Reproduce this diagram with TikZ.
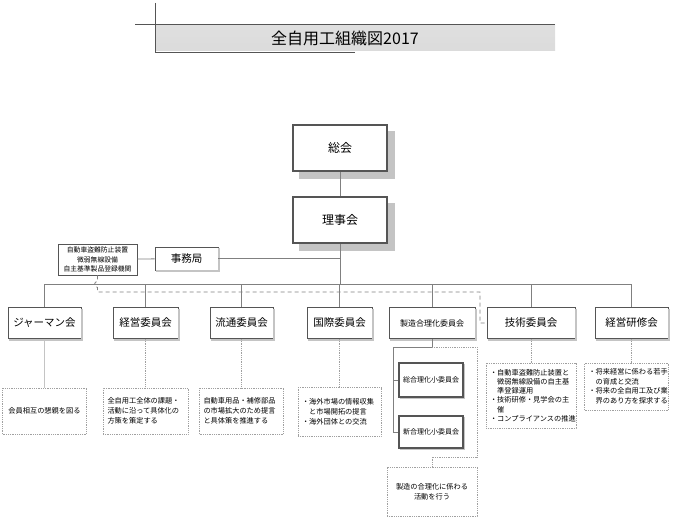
\documentclass[tikz,border=0pt]{standalone}
\usepackage{fontspec}
\setmainfont{Noto Sans CJK JP}
\definecolor{lineGray}{HTML}{808080}
\definecolor{frameDark}{HTML}{555555}
\definecolor{shadeGray}{HTML}{C4C4C4}
\definecolor{dotGray}{HTML}{A0A0A0}
\tikzset{
  lineS/.style={lineGray, line width=0.8pt},
  lineD/.style={lineGray, line width=0.8pt, dashed, dash pattern=on 4pt off 3pt},
  lineP/.style={dotGray, line width=0.8pt, densely dotted},
  lineL/.style={shadeGray, line width=0.8pt},
  shadowTop/.style={shadeGray, line width=7pt},
  shadowCom/.style={shadeGray, line width=1.6pt},
  boxTop/.style={rectangle, draw=frameDark, line width=1.6pt, fill=white,
                 minimum width=94pt, minimum height=46pt, inner sep=2pt,
                 font=\fontsize{12}{14}\selectfont},
  boxCom/.style={rectangle, draw=frameDark, line width=0.8pt, fill=white,
                 minimum height=31pt, inner sep=2pt,
                 font=\fontsize{10.5}{12}\selectfont},
  boxSub/.style={rectangle, draw=frameDark, line width=1.3pt, fill=white,
                 minimum width=64pt, inner sep=2pt,
                 font=\fontsize{7}{9}\selectfont},
  boxOrgan/.style={rectangle, draw=frameDark, line width=0.8pt, fill=white,
                   minimum width=79pt, minimum height=31pt, inner sep=1pt,
                   align=center, font=\fontsize{6.8}{9.2}\selectfont},
  boxNote/.style={rectangle, draw=dotGray, line width=0.8pt, densely dotted,
                  fill=white, inner sep=4pt, align=left,
                  font=\fontsize{7.2}{10}\selectfont},
}

\begin{document}
\begin{tikzpicture}[x=1pt, y=-1pt]
  \useasboundingbox (0,0) rectangle (674,519);
  % title bar
  \shade[top color=gray!25, middle color=gray!6, bottom color=gray!28]
    (155,25) rectangle (555,51);
  \draw[frameDark, line width=0.9pt] (135,24) -- (555,24);
  \draw[frameDark, line width=0.9pt] (155,3) -- (155,53);
  \draw[frameDark, line width=0.9pt] (155,52) -- (355,52);
  \node[font=\fontsize{16}{18}\selectfont] (title) at (345,38) {全自用工組織図2017};

  % top level
  \node[boxTop] (soukai) at (340,148) {総会};
  \node[boxTop] (rijikai) at (340,220) {理事会};
  \node[boxCom, minimum width=63pt, minimum height=23pt] (jimukyoku) at (186.5,258.5) {事務局};
  \node[boxOrgan] (kikan) at (97.5,259.5)
    {自動車盗難防止装置\\微弱無線設備\\自主基準製品登録機関};

  % committees
  \node[boxCom, minimum width=73pt] (german) at (44.5,323) {ジャーマン会};
  \node[boxCom, minimum width=65pt] (keiei) at (145.5,323) {経営委員会};
  \node[boxCom, minimum width=63pt] (ryutsu) at (241.5,323) {流通委員会};
  \node[boxCom, minimum width=65pt] (kokusai) at (339.5,323) {国際委員会};
  \node[boxCom, minimum width=86pt, font=\fontsize{8}{10}\selectfont] (seizo) at (432,323) {製造合理化委員会};
  \node[boxCom, minimum width=88pt] (gijutsu) at (531,323) {技術委員会};
  \node[boxCom, minimum width=73pt] (kenshu) at (631.5,323) {経営研修会};

  % sub committees
  \node[boxSub, minimum height=34pt] (sogo) at (431,380) {総合理化小委員会};
  \node[boxSub, minimum height=32pt] (shingo) at (431,432) {新合理化小委員会};

  % shadows
  \foreach \n in {soukai, rijikai}
    \draw[shadowTop] ([shift={(3.5,7)}]\n.north east) -- ([shift={(3.5,3.5)}]\n.south east)
      -- ([shift={(7,3.5)}]\n.south west);
  \foreach \n in {jimukyoku, german, keiei, ryutsu, kokusai, seizo, gijutsu, kenshu, sogo, shingo}
    \draw[shadowCom] ([shift={(0.8,1.6)}]\n.north east) -- ([shift={(0.8,0.8)}]\n.south east)
      -- ([shift={(1.6,0.8)}]\n.south west);

  % notes
  \node[boxNote, minimum width=84pt, minimum height=46pt, align=center] (noteGerman) at (44.5,411)
    {会員相互の懇親を図る};
  \node[boxNote, minimum width=85pt, minimum height=46pt, text width=76pt] (noteKeiei) at (145.5,411)
    {全自用工全体の課題・\\活動に沿って具体化の\\方策を策定する};
  \node[boxNote, minimum width=84pt, minimum height=46pt, text width=76pt] (noteRyutsu) at (241.5,411)
    {自動車用品・補修部品\\の市場拡大のため提言\\と具体策を推進する};
  \node[boxNote, minimum width=83pt, minimum height=49pt, text width=75pt] (noteKokusai) at (339.5,412)
    {・海外市場の情報収集\\　と市場開拓の提言\\・海外団体との交流};
  \node[boxNote, minimum width=90pt, minimum height=65pt, text width=82pt,
        font=\fontsize{7.2}{9.2}\selectfont] (noteGijutsu) at (531,395.5)
    {・自動車盗難防止装置と\\　微弱無線設備の自主基\\　準登録運用\\・技術研修・見学会の主\\　催\\・コンプライアンスの推進};
  \node[boxNote, minimum width=84pt, minimum height=47pt, text width=76pt,
        font=\fontsize{7.2}{9.5}\selectfont] (noteKenshu) at (626.5,386.5)
    {・将来経営に係わる若手\\　の育成と交流\\・将来の全自用工及び業\\　界のあり方を探求する};
  \node[boxNote, minimum width=90pt, minimum height=49pt, align=center] (noteSeizo) at (432,491.5)
    {製造の合理化に係わる\\活動を行う};

  % solid lines
  \coordinate (bus) at (0,284);
  \draw[lineS] (soukai) -- (rijikai);
  \draw[lineS] (rijikai.south) -- (rijikai.south |- bus);
  \draw[lineS] (german.north) -- (german.north |- bus) -- (kenshu.north |- bus) -- (kenshu.north);
  \foreach \n in {keiei, ryutsu, kokusai, seizo, gijutsu}
    \draw[lineS] (\n.north) -- (\n.north |- bus);
  \draw[lineS] (kikan) -- (jimukyoku);
  \draw[lineS] (jimukyoku.east) -- (jimukyoku.east -| rijikai.south);

  % dashed link
  \coordinate (liaison) at (480,292);
  \draw[lineD] (kikan.south) -- ++(0,6) arc (270:90:3)
    -- (kikan.south |- liaison) -- (liaison) |- (gijutsu.west);

  % seizo branch
  \coordinate (trunk) at (393,347);
  \coordinate (loop) at (477,457);
  \draw[lineS] (seizo.south) -- (seizo.south |- trunk) -- (trunk) |- (shingo.west);
  \draw[lineS] (trunk |- sogo.west) -- (sogo.west);
  \draw[lineP] (seizo.south |- trunk) -| (loop) -| (noteSeizo.north);

  % notes links
  \draw[lineL] (german.south) -- (german.south |- noteGerman.north);
  \foreach \a/\b in {keiei/noteKeiei, ryutsu/noteRyutsu, kokusai/noteKokusai,
                     gijutsu/noteGijutsu, kenshu/noteKenshu}
    \draw[lineP] (\a.south) -- (\a.south |- \b.north);
\end{tikzpicture}
\end{document}
